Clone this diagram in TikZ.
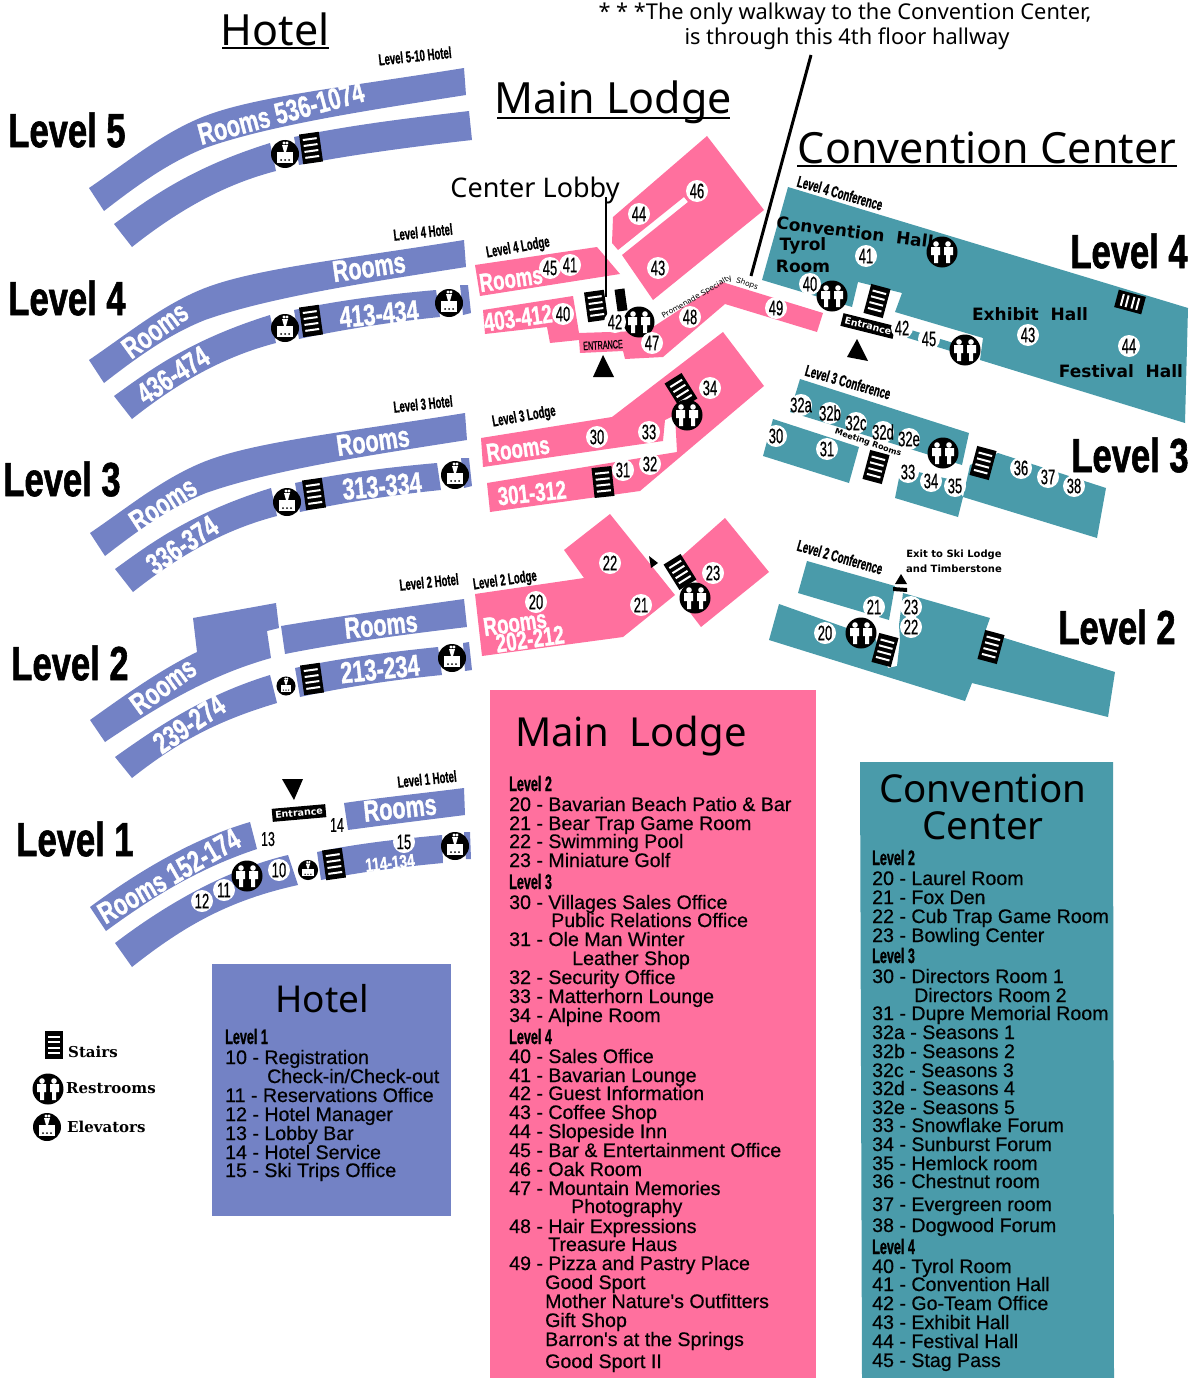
\documentclass[tikz,border=0pt]{standalone}
\usepackage{fontspec}
\newfontfamily\impactfont[FakeStretch=0.72,FakeBold=1.2]{Liberation Sans}
\newfontfamily\tagfont[FakeStretch=0.6,FakeBold=0.8]{Liberation Sans}
\newfontfamily\numfont[FakeStretch=0.62,FakeBold=0.6]{Liberation Sans}
\newfontfamily\headfont{Noto Sans}
\newfontfamily\listfont[FakeBold=0.5]{Liberation Sans}
\newfontfamily\hallfont{DejaVu Sans}
\newfontfamily\legendfont{DejaVu Serif}
\definecolor{hotelblue}{RGB}{115,130,197}
\definecolor{lodgepink}{RGB}{255,112,158}
\definecolor{confteal}{RGB}{74,155,170}
\tikzset{
	bigtitle/.style={font=\headfont\fontsize{43}{43}\selectfont},
	leveltxt/.style={font=\impactfont\bfseries\fontsize{48}{48}\selectfont},
	tagtxt/.style={font=\tagfont\bfseries\fontsize{16}{16}\selectfont},
	roomtxt/.style={text=white,font=\impactfont\bfseries\fontsize{30}{30}\selectfont},
	lodgetxt/.style={text=white,font=\impactfont\bfseries\fontsize{26}{26}\selectfont},
	halltxt/.style={font=\hallfont\bfseries\fontsize{17}{17}\selectfont},
	doortxt/.style={fill=black,text=white,inner sep=3pt,font=\hallfont\bfseries\fontsize{9.5}{9.5}\selectfont},
	numdot/.style={circle,fill=white,inner sep=-2pt,minimum size=22pt,font=\numfont\fontsize{21}{21}\selectfont},
	listhead/.style={anchor=base west,inner sep=0pt,font=\tagfont\bfseries\fontsize{21}{21}\selectfont},
	listline/.style={anchor=base west,inner sep=0pt,font=\listfont\fontsize{19.6}{19.6}\selectfont},
	legendtxt/.style={anchor=west,inner sep=0pt,font=\legendfont\bfseries\fontsize{15}{15}\selectfont}
}
\newcommand{\stairs}[3]{
	\begin{scope}[shift={(#1,#2)},rotate=#3]
	\fill (-10,-15) rectangle (10,15);
	\foreach \sy in {-9,-3,3,9} \draw [white,line width=2pt] (-7,\sy) -- (7,\sy);
	\end{scope}}
\newcommand{\restroom}[3][1]{
	\begin{scope}[shift={(#2,#3)},scale=#1]
	\fill (0,0) circle (15.5);
	\fill [white] (-6,-8) circle (2.8) (6,-8) circle (2.8);
	\fill [white] (-11,-5) -- (-2,-5) -- (-2,3) -- (-4,3) -- (-4,11) -- (-8,11) -- (-8,3) -- (-11,3) -- cycle;
	\fill [white] (2,-5) -- (11,-5) -- (11,3) -- (8,3) -- (8,11) -- (4,11) -- (4,3) -- (2,3) -- cycle;
	\end{scope}}
\newcommand{\elevator}[3][1]{
	\begin{scope}[shift={(#2,#3)},scale=#1]
	\fill (0,0) circle (14);
	\fill [white] (-8,-2) rectangle (8,9);
	\fill [white] (-3,-9) -- (3,-9) -- (1,-2) -- (-1,-2) -- cycle (-1,-11) circle (1.6) (2,-11) circle (1.6);
	\foreach \ex in {-4,0,4} \fill (\ex,6) circle (1);
	\end{scope}}
\newcommand{\roomdot}[3]{\node [numdot] at (#1,#2) {#3};}
\newcommand{\upperband}{(89,188) .. controls (130,160) and (160,135) .. (200,118) .. controls (250,97) and (340,88) .. (464,68) -- (466,95) .. controls (370,110) and (270,125) .. (205,148) .. controls (170,162) and (140,183) .. (104,211) -- cycle}
\newcommand{\lowerleft}{(114,224) .. controls (150,198) and (190,168) .. (270,143) -- (276,171) .. controls (230,183) and (185,205) .. (132,247) -- cycle}
\begin{document}
\begin{tikzpicture}[x=1pt,y=-1pt]
	\useasboundingbox (0,0) rectangle (1192,1378);

	% titles
	\node [bigtitle] (hoteltitle) at (275,29) {Hotel};
	\draw [line width=1.5pt] (222,48) -- (329,48);
	\node [bigtitle] (lodgetitle) at (613,102) {Main Lodge};
	\draw [line width=1.5pt] (497,118) -- (730,118);
	\node [bigtitle] (conftitle) at (987,148) {Convention Center};
	\draw [line width=1.5pt] (797,166) -- (1177,166);
	\node [font=\headfont\fontsize{21.8}{21.8}\selectfont] (walknote) at (845,14) {* * *The only walkway to the Convention Center,};
	\node [font=\headfont\fontsize{21.8}{21.8}\selectfont] (walknoteb) at (847,39) {is through this 4th floor hallway};
	\node [font=\headfont\fontsize{27}{27}\selectfont] (lobby) at (535,190) {Center Lobby};

	\foreach \lx/\ly/\lt in {67/130/Level 5,67/298/Level 4,62/479/Level 3,70/663/Level 2,75/839/Level 1,1129/251/Level 4,1130/455/Level 3,1117/627/Level 2}
		\node [leveltxt] at (\lx,\ly) {\lt};

	% hotel
	\fill [hotelblue] \upperband;
	\fill [hotelblue] \lowerleft;
	\fill [hotelblue] (294,137) .. controls (350,125) and (410,118) .. (469,111) -- (472,140) .. controls (410,147) and (350,155) .. (299,165) -- cycle;
	\begin{scope}[shift={(0,172)}]
	\fill [hotelblue] \upperband;
	\fill [hotelblue] \lowerleft;
	\fill [hotelblue] (294,138) .. controls (340,128) and (390,122) .. (436,118) -- (440,145) .. controls (390,150) and (340,158) .. (299,167) -- cycle;
	\fill [hotelblue] (460,113) -- (468,113) -- (471,141) -- (463,143) -- cycle;
	\end{scope}
	\begin{scope}[shift={(1,345)}]
	\fill [hotelblue] \upperband;
	\fill [hotelblue] \lowerleft;
	\fill [hotelblue] (294,138) .. controls (340,128) and (390,122) .. (436,118) -- (440,145) .. controls (390,150) and (340,158) .. (299,167) -- cycle;
	\fill [hotelblue] (460,113) -- (468,113) -- (471,141) -- (463,143) -- cycle;
	\end{scope}
	% level 2
	\fill [hotelblue] (90,720) .. controls (125,695) and (160,670) .. (197,652) -- (193,618) -- (276,603) -- (279,628) -- (267,631) -- (271,658) .. controls (210,675) and (160,705) .. (105,742) -- cycle;
	\fill [hotelblue] (281,626) .. controls (340,616) and (400,608) .. (464,599) -- (467,627) .. controls (400,635) and (340,643) .. (285,654) -- cycle;
	\fill [hotelblue] (115,757) .. controls (160,725) and (205,695) .. (270,675) -- (277,703) .. controls (220,720) and (180,740) .. (132,778) -- cycle;
	\fill [hotelblue] (295,668) .. controls (340,658) and (390,652) .. (438,647) -- (442,675) .. controls (390,680) and (340,688) .. (300,697) -- cycle;
	\fill [hotelblue] (463,643) -- (469,642) -- (472,670) -- (465,671) -- cycle;
	% level 1
	\fill [hotelblue] (90,907) .. controls (140,870) and (195,838) .. (250,822) -- (257,849) .. controls (200,868) and (155,895) .. (106,931) -- cycle;
	\fill [hotelblue] (344,803) .. controls (385,797) and (425,793) .. (464,788) -- (465,815) .. controls (425,820) and (385,825) .. (348,830) -- cycle;
	\fill [hotelblue] (115,943) .. controls (165,905) and (225,870) .. (288,855) -- (298,885) .. controls (230,900) and (185,925) .. (132,967) -- cycle;
	\fill [hotelblue] (317,852) .. controls (360,843) and (400,839) .. (442,835) -- (443,863) .. controls (400,867) and (360,872) .. (321,880) -- cycle;
	\fill [hotelblue] (464,832) -- (470,832) -- (471,859) -- (466,859) -- cycle;

	\node [tagtxt,rotate=6] at (415,56) {Level 5-10 Hotel};
	\node [tagtxt,rotate=6] at (423,232) {Level 4 Hotel};
	\node [tagtxt,rotate=6] at (423,404) {Level 3 Hotel};
	\node [tagtxt,rotate=6] at (429,582) {Level 2 Hotel};
	\node [tagtxt,rotate=6] at (427,779) {Level 1 Hotel};
	\node [roomtxt,rotate=15] at (281,113) {Rooms 536-1074};
	\node [roomtxt,rotate=8] at (369,267) {Rooms};
	\node [roomtxt,rotate=36] at (155,330) {Rooms};
	\node [roomtxt,rotate=5] at (379,314) {413-434};
	\node [roomtxt,rotate=33] at (173,375) {436-474};
	\node [roomtxt,rotate=8] at (373,441) {Rooms};
	\node [roomtxt,rotate=33] at (163,504) {Rooms};
	\node [roomtxt,rotate=5] at (382,486) {313-334};
	\node [roomtxt,rotate=34] at (182,545) {336-374};
	\node [roomtxt,rotate=6] at (381,625) {Rooms};
	\node [roomtxt,rotate=36] at (163,686) {Rooms};
	\node [roomtxt,rotate=6] at (380,669) {213-234};
	\node [roomtxt,rotate=34] at (189,724) {239-274};
	\node [roomtxt,rotate=6] at (400,808) {Rooms};
	\node [roomtxt,rotate=30] at (169,876) {Rooms 152-174};
	\node [roomtxt,rotate=6,font=\impactfont\bfseries\fontsize{19}{19}\selectfont] at (390,863) {114-134};

	\elevator{285}{154} \stairs{311}{148}{8}
	\elevator{285}{328} \stairs{311}{321}{8} \elevator{449}{303}
	\elevator{287}{502} \stairs{314}{494}{8} \elevator{455}{475}
	\elevator[.68]{286}{686} \stairs{312}{679}{8} \elevator{452}{658}
	\elevator[.72]{308}{870} \stairs{334}{864}{8} \elevator{455}{846}
	\restroom{247}{876}
	\roomdot{279}{870}{10} \roomdot{224}{890}{11} \roomdot{202}{901}{12}
	\node [font=\numfont\fontsize{20}{20}\selectfont] at (268,839) {13};
	\node [font=\numfont\fontsize{20}{20}\selectfont] at (337,825) {14};
	\roomdot{404}{842}{15}
	\node [doortxt,rotate=5] (lobbydoor) at (299,813) {Entrance};
	\fill (282,779) -- (303,779) -- (294,800) -- cycle;

	% main lodge
	\fill [lodgepink] (475,265) -- (597,247) -- (620,274) -- (480,296) -- cycle;
	\fill [lodgepink] (483,310) -- (573,296) -- (579,333) -- (640,331) -- (653,327) -- (722,282) -- (823,313) -- (817,332) -- (725,304) -- (663,357) -- (625,359) -- (623,351) -- (580,353) -- (579,340) -- (550,343) -- (547,327) -- (485,334) -- cycle;
	\fill [lodgepink] (613,217) -- (707,136) -- (764,210) -- (653,300) -- (622,255) -- (688,202) -- (684,197) -- (618,250) -- (612,243) -- cycle;
	\fill [lodgepink] (481,438) -- (612,417) -- (723,332) -- (764,386) -- (640,491) -- (490,512) -- (487,483) -- (677,452) -- (675,415) -- (665,420) -- (663,441) -- (483,467) -- cycle;
	\fill [lodgepink] (475,594) -- (584,578) -- (564,550) -- (610,514) -- (675,595) -- (623,637) -- (482,656) -- cycle;
	\fill [lodgepink] (725,518) -- (769,572) -- (701,627) -- (688,610) -- (700,585) -- (690,575) -- (681,557) -- cycle;

	\node [tagtxt,rotate=10] at (518,248) {Level 4 Lodge};
	\node [tagtxt,rotate=10] at (524,417) {Level 3 Lodge};
	\node [tagtxt,rotate=8] at (505,581) {Level 2 Lodge};
	\node [lodgetxt,rotate=8] at (511,279) {Rooms};
	\node [lodgetxt,rotate=8] at (518,318) {403-412};
	\node [lodgetxt,rotate=8] at (518,449) {Rooms};
	\node [lodgetxt,rotate=6] at (532,493) {301-312};
	\node [lodgetxt,rotate=8] at (515,623) {Rooms};
	\node [lodgetxt,rotate=8] at (530,639) {202-212};
	\node [rotate=3,font=\tagfont\fontsize{12}{12}\selectfont] at (603,345) {ENTRANCE};
	\node [rotate=30,font=\hallfont\fontsize{7.5}{7.5}\selectfont] at (697,297) {Promenade Specialty};
	\node [rotate=-20,font=\hallfont\fontsize{7.5}{7.5}\selectfont] at (747,284) {Shops};

	\fill (603,355) -- (614,377) -- (593,377) -- cycle;
	\draw [line width=1.5pt] (606,197) -- (606,297);
	\draw [line width=3pt] (811,55) -- (751,276);
	\stairs{596}{306}{8}
	\fill [rotate around={8:(621,300)}] (616,289) rectangle (626,311);
	\restroom{639}{322}
	\stairs{681}{391}{32} \restroom{687}{415}
	\stairs{603}{482}{6}
	\stairs{680}{572}{32} \restroom{695}{598}
	\fill (649,556) -- (658,563) -- (651,568) -- cycle;
	\foreach \rx/\ry/\rt in {550/268/45,570/265/41,563/314/40,615/322/42,652/343/47,690/317/48,776/308/49,697/191/46,639/214/44,658/268/43,597/437/30,649/432/33,710/388/34,623/470/31,650/464/32,536/602/20,610/563/22,641/605/21,713/573/23}
		{\roomdot{\rx}{\ry}{\rt}}

	% convention center
	\fill [confteal] (788,187) -- (1188,308) -- (1185,423) -- (980,360) -- (983,338) -- (895,312) -- (902,293) -- (858,282) -- (852,307) -- (762,280) -- cycle;
	\fill [confteal] (898,326) -- (960,345) -- (957,353) -- (895,334) -- cycle;
	\fill [confteal] (800,379) -- (969,433) -- (962,465) -- (790,412) -- cycle;
	\fill [confteal] (773,419) -- (859,447) -- (849,483) -- (763,456) -- cycle;
	\fill [confteal] (901,468) -- (953,480) -- (963,497) -- (958,517) -- (895,498) -- cycle;
	\fill [confteal] (998,453) -- (1106,488) -- (1097,538) -- (963,497) -- (970,465) -- cycle;
	\fill [confteal] (807,561) -- (895,586) -- (889,620) -- (798,593) -- cycle;
	\fill [confteal] (903,593) -- (990,618) -- (985,632) -- (1115,672) -- (1108,717) -- (972,683) -- (965,701) -- (769,640) -- (779,604) -- (875,638) -- (888,668) -- (897,666) -- (900,640) -- (899,625) -- cycle;

	\node [tagtxt,rotate=-16] at (840,193) {Level 4 Conference};
	\node [tagtxt,rotate=-16] at (848,382) {Level 3 Conference};
	\node [tagtxt,rotate=-16] at (840,557) {Level 2 Conference};
	\node [halltxt,rotate=-7] at (855,232) {Convention\ \ Hall};
	\node [halltxt] at (803,246) {Tyrol};
	\node [halltxt] at (803,266) {Room};
	\node [halltxt] at (1030,314) {Exhibit\ \ Hall};
	\node [halltxt] at (1121,371) {Festival\ \ Hall};
	\node [font=\hallfont\bfseries\fontsize{10}{10}\selectfont] at (954,555) {Exit to Ski Lodge};
	\node [font=\hallfont\bfseries\fontsize{10}{10}\selectfont] at (954,569) {and Timberstone};
	\node [doortxt,rotate=-14] (confdoor) at (868,326) {Entrance};
	\fill (857,339) -- (868,361) -- (847,357) -- cycle;
	\fill (901,574) -- (907,584) -- (895,584) -- cycle;
	\fill (893,587) -- (907,588) -- (907,592) -- (893,591) -- cycle;

	\restroom{942}{252} \restroom{832}{296} \restroom{965}{350} \restroom{943}{453} \restroom{861}{633}
	\stairs{877}{301}{-15} \stairs{876}{467}{-15} \stairs{983}{463}{-15} \stairs{885}{650}{-15} \stairs{991}{647}{-15}
	\begin{scope}[shift={(1130,302)},rotate=-15]
	\fill (-14,-9) rectangle (14,9);
	\foreach \sx in {-8,-3,3,8} \draw [white,line width=2pt] (\sx,-6) -- (\sx,6);
	\end{scope}
	\foreach \rx/\ry/\rt in {866/256/41,810/284/40,902/328/42,929/339/45,1028/335/43,1129/346/44,801/405/32a,830/413/32b,856/423/32c,883/432/32d,909/439/32e,776/436/30,827/449/31,908/472/33,931/481/34,955/486/35,1021/468/36,1048/477/37,1074/486/38,874/607/21,911/607/23,911/627/22,825/633/20}
		{\roomdot{\rx}{\ry}{\rt}}
	\node [rotate=-19,font=\hallfont\bfseries\fontsize{8}{8}\selectfont] at (868,443) {Meeting Rooms};

	% key panels
	\fill [hotelblue] (212,964) rectangle (451,1216);
	\fill [lodgepink] (490,690) rectangle (816,1378);
	\fill [confteal] (860,762) -- (1113,762) -- (1114,1378) -- (862,1378) -- cycle;
	\node [font=\headfont\fontsize{37}{37}\selectfont] at (322,999) {Hotel};
	\node [font=\headfont\fontsize{40}{40}\selectfont] at (631,736) {Main\ \ Lodge};
	\node [font=\headfont\fontsize{38.5}{38.5}\selectfont] at (983,788) {Convention};
	\node [font=\headfont\fontsize{38.5}{38.5}\selectfont] at (983,826) {Center};

	\node [listhead] at (225,1044) {Level 1};
	\foreach \lx/\ly/\lt in {225/1064/10 - Registration,267/1083/{Check-in/Check-out},225/1102/11 - Reservations Office,225/1121/12 - Hotel Manager,225/1140/13 - Lobby Bar,225/1159/14 - Hotel Service,225/1177/15 - Ski Trips Office}
		\node [listline] at (\lx,\ly) {\lt};

	\foreach \ly/\lt in {791/Level 2,889/Level 3,1044/Level 4}
		\node [listhead] at (509,\ly) {\lt};
	\foreach \lx/\ly/\lt in {509/811/20 - Bavarian Beach Patio \& Bar,509/830/21 - Bear Trap Game Room,509/848/22 - Swimming Pool,509/867/23 - Miniature Golf,
		509/909/30 - Villages Sales Office,551/927/Public Relations Office,509/946/31 - Ole Man Winter,572/965/Leather Shop,509/984/32 - Security Office,509/1003/33 - Matterhorn Lounge,509/1022/34 - Alpine Room,
		509/1063/40 - Sales Office,509/1082/41 - Bavarian Lounge,509/1100/42 - Guest Information,509/1119/43 - Coffee Shop,509/1138/44 - Slopeside Inn,509/1157/45 - Bar \& Entertainment Office,509/1176/46 - Oak Room,509/1195/47 - Mountain Memories,571/1213/Photography,509/1233/48 - Hair Expressions,548/1251/Treasure Haus,509/1270/49 - Pizza and Pastry Place,545/1289/Good Sport,545/1308/Mother Nature's Outfitters,545/1327/Gift Shop,545/1346/Barron's at the Springs,545/1368/Good Sport II}
		\node [listline] at (\lx,\ly) {\lt};

	\foreach \ly/\lt in {865/Level 2,963/Level 3,1254/Level 4}
		\node [listhead] at (872,\ly) {\lt};
	\foreach \lx/\ly/\lt in {872/885/20 - Laurel Room,872/904/21 - Fox Den,872/923/22 - Cub Trap Game Room,872/942/23 - Bowling Center,
		872/983/30 - Directors Room 1,914/1002/Directors Room 2,872/1020/31 - Dupre Memorial Room,872/1039/32a - Seasons 1,872/1058/32b - Seasons 2,872/1077/32c - Seasons 3,872/1095/32d - Seasons 4,872/1114/32e - Seasons 5,872/1132/33 - Snowflake Forum,872/1151/34 - Sunburst Forum,872/1170/35 - Hemlock room,872/1188/36 - Chestnut room,872/1211/37 - Evergreen room,872/1232/38 - Dogwood Forum,
		872/1273/40 - Tyrol Room,872/1291/41 - Convention Hall,872/1310/42 - Go-Team Office,872/1329/43 - Exhibit Hall,872/1348/44 - Festival Hall,872/1367/45 - Stag Pass}
		\node [listline] at (\lx,\ly) {\lt};

	% legend
	\begin{scope}[shift={(54,1045)}]
	\fill (-9,-14) rectangle (9,14);
	\foreach \sy in {-8,-3,3,8} \draw [white,line width=2pt] (-6,\sy) -- (6,\sy);
	\end{scope}
	\node [legendtxt] at (68,1052) {Stairs};
	\restroom{48}{1089}
	\node [legendtxt] at (66,1088) {Restrooms};
	\elevator{47}{1127}
	\node [legendtxt] at (67,1127) {Elevators};
\end{tikzpicture}
\end{document}
